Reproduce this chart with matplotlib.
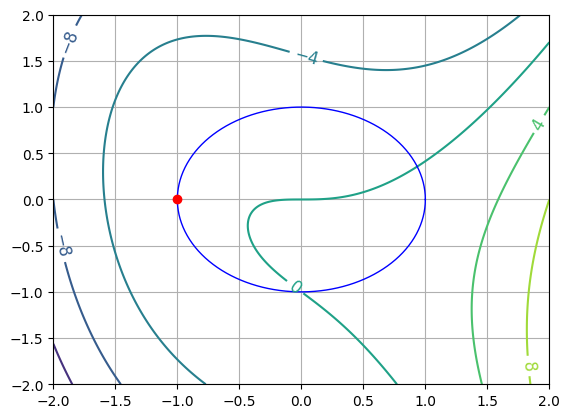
import numpy as np
import matplotlib
matplotlib.use("Agg")
import matplotlib.pyplot as plt

# Data
x_range = [-2.0, 2.0]
y_range = [-2.0, 2.0]
levels = [-16, -12, -8, -4, 0, 4, 8, 12]
label_positions = [(-1.85, 1.7), (-1.95, -0.5), (0.05, 1.6), (-0.05, -0.95),
                   (1.85, 0.87), (1.85, -1.8)]
circle_radius = 1.0
point_x = [-1.0]
point_y = [0.0]


def f(x, y):
    return x**3 - x * y - y**2 - y


xs = np.linspace(x_range[0], x_range[1], 400)
ys = np.linspace(y_range[0], y_range[1], 400)
X, Y = np.meshgrid(xs, ys)
Z = f(X, Y)

fig, ax = plt.subplots(figsize=(6.4, 4.8), dpi=100)
cs = ax.contour(X, Y, Z, levels=levels, cmap="viridis", vmin=-16, vmax=12)
ax.clabel(cs, inline=True, fontsize=12, manual=label_positions)

t = np.linspace(0, 2 * np.pi, 400)
ax.plot(circle_radius * np.cos(t), circle_radius * np.sin(t), color="blue", linewidth=1)
ax.scatter(point_x, point_y, color="red", zorder=5)

ax.set_xlim(x_range)
ax.set_ylim(y_range)
ax.grid(True)

fig.savefig("out.png", bbox_inches="tight")
